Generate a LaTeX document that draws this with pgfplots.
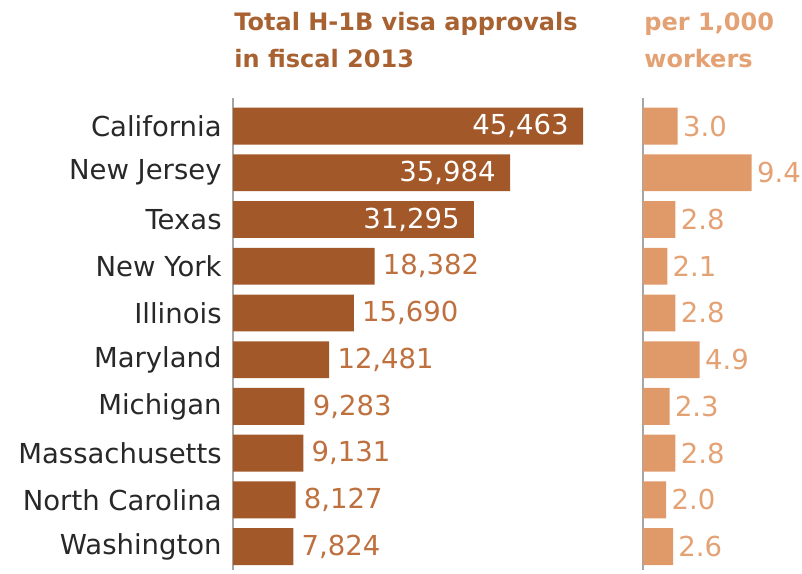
\documentclass[border=0pt]{standalone}
\usepackage{fontspec}
\setmainfont{DejaVu Sans}
\usepackage{pgfplots}
\pgfplotsset{compat=1.18}
\definecolor{darkbar}{RGB}{162,88,40}
\definecolor{lightbar}{RGB}{224,154,106}
\definecolor{outlab}{RGB}{190,112,62}
\definecolor{lefttitle}{RGB}{168,98,50}
\definecolor{righttitle}{RGB}{228,162,116}
\definecolor{statecol}{RGB}{40,40,40}

\begin{document}
\begin{tikzpicture}
\path[use as bounding box] (0pt,0pt) rectangle (401pt,-286.5pt);
\pgfplotsset{
  panel/.style={
    xbar, bar shift=0pt, bar width=0.79,
    scale only axis, height=236pt,
    y dir=reverse, ymin=-0.6, ymax=9.5,
    xmin=0, enlargelimits=false,
    axis x line=none, axis y line*=left,
    axis line style={draw=gray!70, line width=0.7pt},
    xtick=\empty, major tick length=0pt,
    point meta=x,
    clip=false,
    anchor=north west,
  }
}
% total approvals
\begin{axis}[panel, at={(116.5pt,-49pt)}, width=183.5pt, xmax=47660,
  ytick={0,...,9},
  yticklabels={California,New Jersey,Texas,New York,Illinois,Maryland,Michigan,Massachusetts,North Carolina,Washington},
  yticklabel style={font=\fontsize{13.75}{16}\selectfont, text=statecol, inner sep=0pt, xshift=-5.5pt},
]
\addplot[fill=darkbar, draw=none,
  nodes near coords={\pgfmathprintnumber[fixed,1000 sep={,},assume math mode=true]{\pgfplotspointmeta}},
  nodes near coords style={anchor=east, text=white, inner sep=0pt, xshift=-7pt, font=\fontsize{13.75}{16}\selectfont}]
  coordinates {(45463,0) (35984,1) (31295,2)};
\addplot[fill=darkbar, draw=none,
  nodes near coords={\pgfmathprintnumber[fixed,1000 sep={,},assume math mode=true]{\pgfplotspointmeta}},
  nodes near coords style={anchor=west, text=outlab, inner sep=0pt, xshift=4pt, font=\fontsize{13.75}{16}\selectfont}]
  coordinates {(18382,3) (15690,4) (12481,5) (9283,6) (9131,7) (8127,8) (7824,9)};
\end{axis}
% per 1,000 workers
\begin{axis}[panel, at={(321.5pt,-49pt)}, width=79.5pt, xmax=13.75, ytick=\empty]
\addplot[fill=lightbar, draw=none,
  nodes near coords={\pgfmathprintnumber[fixed,fixed zerofill,precision=1,assume math mode=true]{\pgfplotspointmeta}},
  nodes near coords style={anchor=west, text=righttitle, inner sep=0pt, xshift=2.5pt, font=\fontsize{13.75}{16}\selectfont}]
  coordinates {(3.0,0) (9.4,1) (2.8,2) (2.1,3) (2.8,4) (4.9,5) (2.3,6) (2.8,7) (2.0,8) (2.6,9)};
\end{axis}
\node[anchor=base west, inner sep=0pt, text=lefttitle, font=\bfseries\fontsize{12}{14}\selectfont] at (117pt,-15pt) {Total H-1B visa approvals};
\node[anchor=base west, inner sep=0pt, text=lefttitle, font=\bfseries\fontsize{12}{14}\selectfont] at (117pt,-33.5pt) {in fiscal 2013};
\node[anchor=base west, inner sep=0pt, text=righttitle, font=\bfseries\fontsize{12}{14}\selectfont] at (322pt,-15pt) {per 1,000};
\node[anchor=base west, inner sep=0pt, text=righttitle, font=\bfseries\fontsize{12}{14}\selectfont] at (322pt,-33.5pt) {workers};
\end{tikzpicture}
\end{document}
